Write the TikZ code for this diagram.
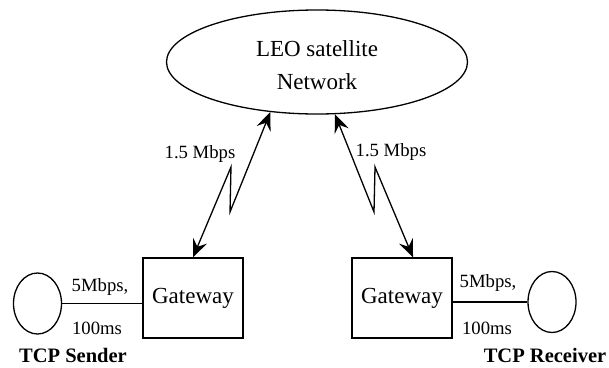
\documentclass[tikz,border=0pt]{standalone}
\usepackage{fontspec}
\setmainfont{Liberation Serif}
\usetikzlibrary{arrows.meta,shapes.geometric,calc}
\begin{document}
\begin{tikzpicture}[x=1pt,y=-1pt,
  ln/.style={line width=1.3pt},
  box/.style={draw,ln,minimum width=100pt,minimum height=80pt,inner sep=0pt,font=\fontsize{23}{28}\selectfont},
  hostnode/.style={draw,ln,ellipse,minimum width=48pt,minimum height=61pt,inner sep=0pt},
  lbl/.style={font=\fontsize{18.7}{22}\selectfont,inner sep=0pt},
  caption/.style={font=\fontsize{20.5}{24}\selectfont\bfseries,inner sep=0pt},
  link/.style={ln,{Stealth[length=18pt,width=15pt,inset=6.5pt]}-{Stealth[length=18pt,width=15pt,inset=6.5pt]}}]
\useasboundingbox (0,0) rectangle (609,367);
\node[draw,ln,ellipse,minimum width=301pt,minimum height=104pt,inner sep=0pt] (ell) at (317,62) {};
\node[align=center,inner sep=0pt,font=\fontsize{23}{33}\selectfont] (ellText) at (317,65.5) {LEO satellite\\Network};
\node[box] (gwL) at (193,298) {Gateway};
\node[box] (gwR) at (402,298) {Gateway};
\node[hostnode] (cL) at (37.5,303.5) {};
\node[hostnode] (cR) at (552,302) {};
\coordinate (tipR) at ($(gwR.north)+(11,0)$);
\draw[link] (gwL.north) -- (231,167) -- (230,212) -- (ell.227);
\draw[link] (ell.289) -- (374,212) -- (375,167) -- (tipR);
\draw[ln] (cL.east) -- (cL.east -| gwL.west);
\draw[ln] (cR.west) -- (cR.west -| gwR.east);
\node[lbl] (bl) at (200,154) {1.5 Mbps};
\node[lbl] (br) at (391,152) {1.5 Mbps};
\node[lbl] (sl1) at (100,287) {5Mbps,};
\node[lbl] (sl2) at (97,328) {100ms};
\node[lbl] (sr1) at (488,283) {5Mbps,};
\node[lbl] (sr2) at (487,328) {100ms};
\node[caption] (ns) at (73,355) {TCP Sender};
\node[caption] (nr) at (545,355) {TCP Receiver};
\end{tikzpicture}
\end{document}
